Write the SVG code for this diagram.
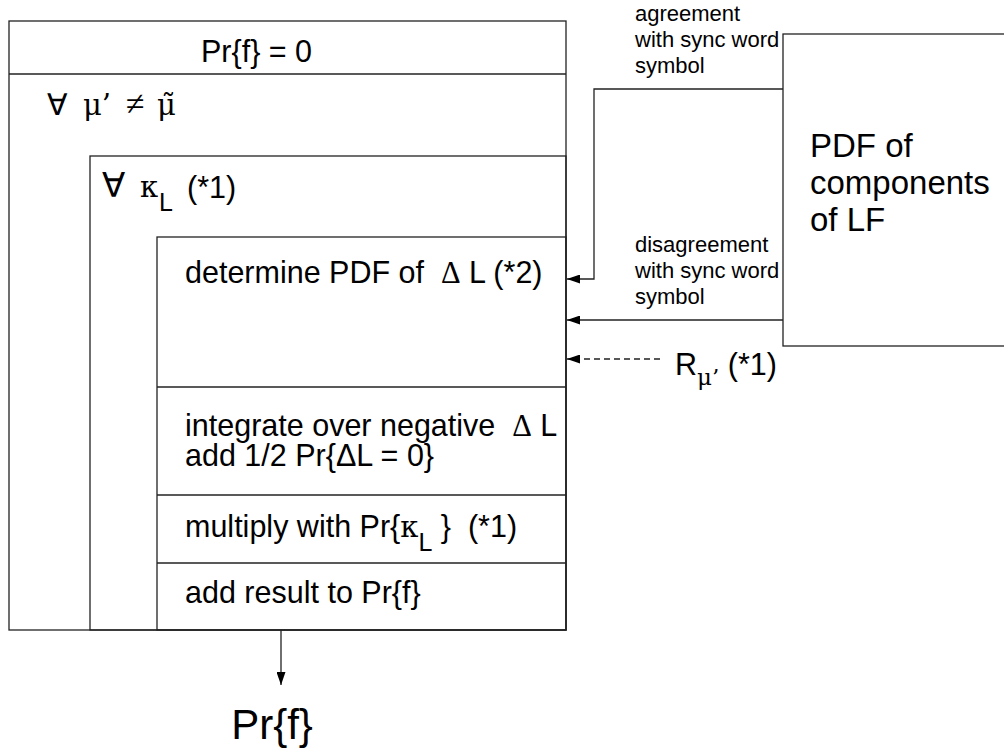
<svg xmlns="http://www.w3.org/2000/svg" width="1004" height="756" viewBox="0 0 1004 756">
<style>
.box{fill:none;stroke:#222;stroke-width:1.3}
.ln{fill:none;stroke:#222;stroke-width:1.3}
.t{font-family:"Liberation Sans",Arial,sans-serif;font-size:30.5px;fill:#000}
.s{font-family:"Liberation Sans",Arial,sans-serif;font-size:22px;fill:#000}
.big{font-family:"Liberation Sans",Arial,sans-serif;font-size:33px;fill:#000}
.res{font-family:"Liberation Sans",Arial,sans-serif;font-size:42px;fill:#000}
.sub{font-size:25px}
.ser{font-family:"Liberation Serif","DejaVu Serif",serif;fill:#000}
.dser{font-family:"DejaVu Serif",serif;fill:#000}
.fa{font-family:"DejaVu Sans",sans-serif;fill:#000}
</style>
<defs>
<marker id="ah" markerUnits="userSpaceOnUse" markerWidth="13" markerHeight="9" refX="13" refY="4.5" orient="auto">
<path d="M0,0 L13,4.5 L0,9 z" fill="#000"/>
</marker>
</defs>
<rect width="1004" height="756" fill="#fff"/>

<g id="outer-loop">
<rect class="box" x="9" y="21" width="557" height="609"/>
<line class="ln" x1="9" y1="74" x2="566" y2="74"/>
<text class="t" x="201" y="62">Pr{f} = 0</text>
<text class="fa" x="47" y="115" style="font-size:30px">∀</text>
<text class="dser" x="83" y="115" style="font-size:29px">μ’</text>
<text class="ser" x="126" y="115" style="font-size:34px">≠</text>
<text class="dser" x="157" y="115" style="font-size:29px">μ̃</text>
</g>

<g id="middle-loop">
<rect class="box" x="90" y="156" width="476" height="474"/>
<text class="fa" x="102" y="197" style="font-size:34px">∀</text>
<text class="dser" x="140" y="197" style="font-size:29px">κ</text>
<text class="t sub" x="159" y="211">L</text>
<text class="t" x="187" y="198">(*1)</text>
</g>

<g id="inner-body">
<rect class="box" x="157" y="237" width="409" height="393"/>
<line class="ln" x1="157" y1="387" x2="566" y2="387"/>
<line class="ln" x1="157" y1="495" x2="566" y2="495"/>
<line class="ln" x1="157" y1="563" x2="566" y2="563"/>
<text class="t" x="185" y="283" xml:space="preserve">determine PDF of  <tspan class="ser">Δ</tspan> L (*2)</text>
<text class="t" x="185" y="436" xml:space="preserve">integrate over negative  <tspan class="ser">Δ</tspan> L<tspan x="185" dy="30">add 1/2 Pr{ΔL = 0}</tspan></text>
<text class="t" x="185" y="537" xml:space="preserve">multiply with Pr{<tspan class="dser" style="font-size:29px">κ</tspan><tspan class="sub" dy="14">L</tspan><tspan dy="-14"> }  (*1)</tspan></text>
<text class="t" x="185" y="603">add result to Pr{f}</text>
</g>

<g id="pdf-box">
<rect class="box" x="783" y="34" width="240" height="312"/>
<text class="big" x="810" y="157">PDF of</text>
<text class="big" x="810" y="194">components</text>
<text class="big" x="810" y="231">of LF</text>
</g>

<g id="labels">
<text class="s" x="635" y="21">agreement</text>
<text class="s" x="635" y="47">with sync word</text>
<text class="s" x="635" y="73">symbol</text>
<text class="s" x="635" y="252">disagreement</text>
<text class="s" x="635" y="278">with sync word</text>
<text class="s" x="635" y="304">symbol</text>
<text class="t" x="675" y="375" xml:space="preserve">R<tspan class="dser" style="font-size:23px" dy="10">μ’</tspan><tspan dy="-10"> (*1)</tspan></text>
<text class="res" x="272" y="739" text-anchor="middle">Pr{f}</text>
</g>

<g id="connectors">
<polyline class="ln" points="783,89 594,89 594,279 567,279" marker-end="url(#ah)"/>
<line class="ln" x1="783" y1="320" x2="567" y2="320" marker-end="url(#ah)"/>
<line class="ln" x1="660" y1="359" x2="567" y2="359" stroke-dasharray="6 4" marker-end="url(#ah)"/>
<line class="ln" x1="281" y1="630" x2="281" y2="685" marker-end="url(#ah)"/>
</g>
</svg>
